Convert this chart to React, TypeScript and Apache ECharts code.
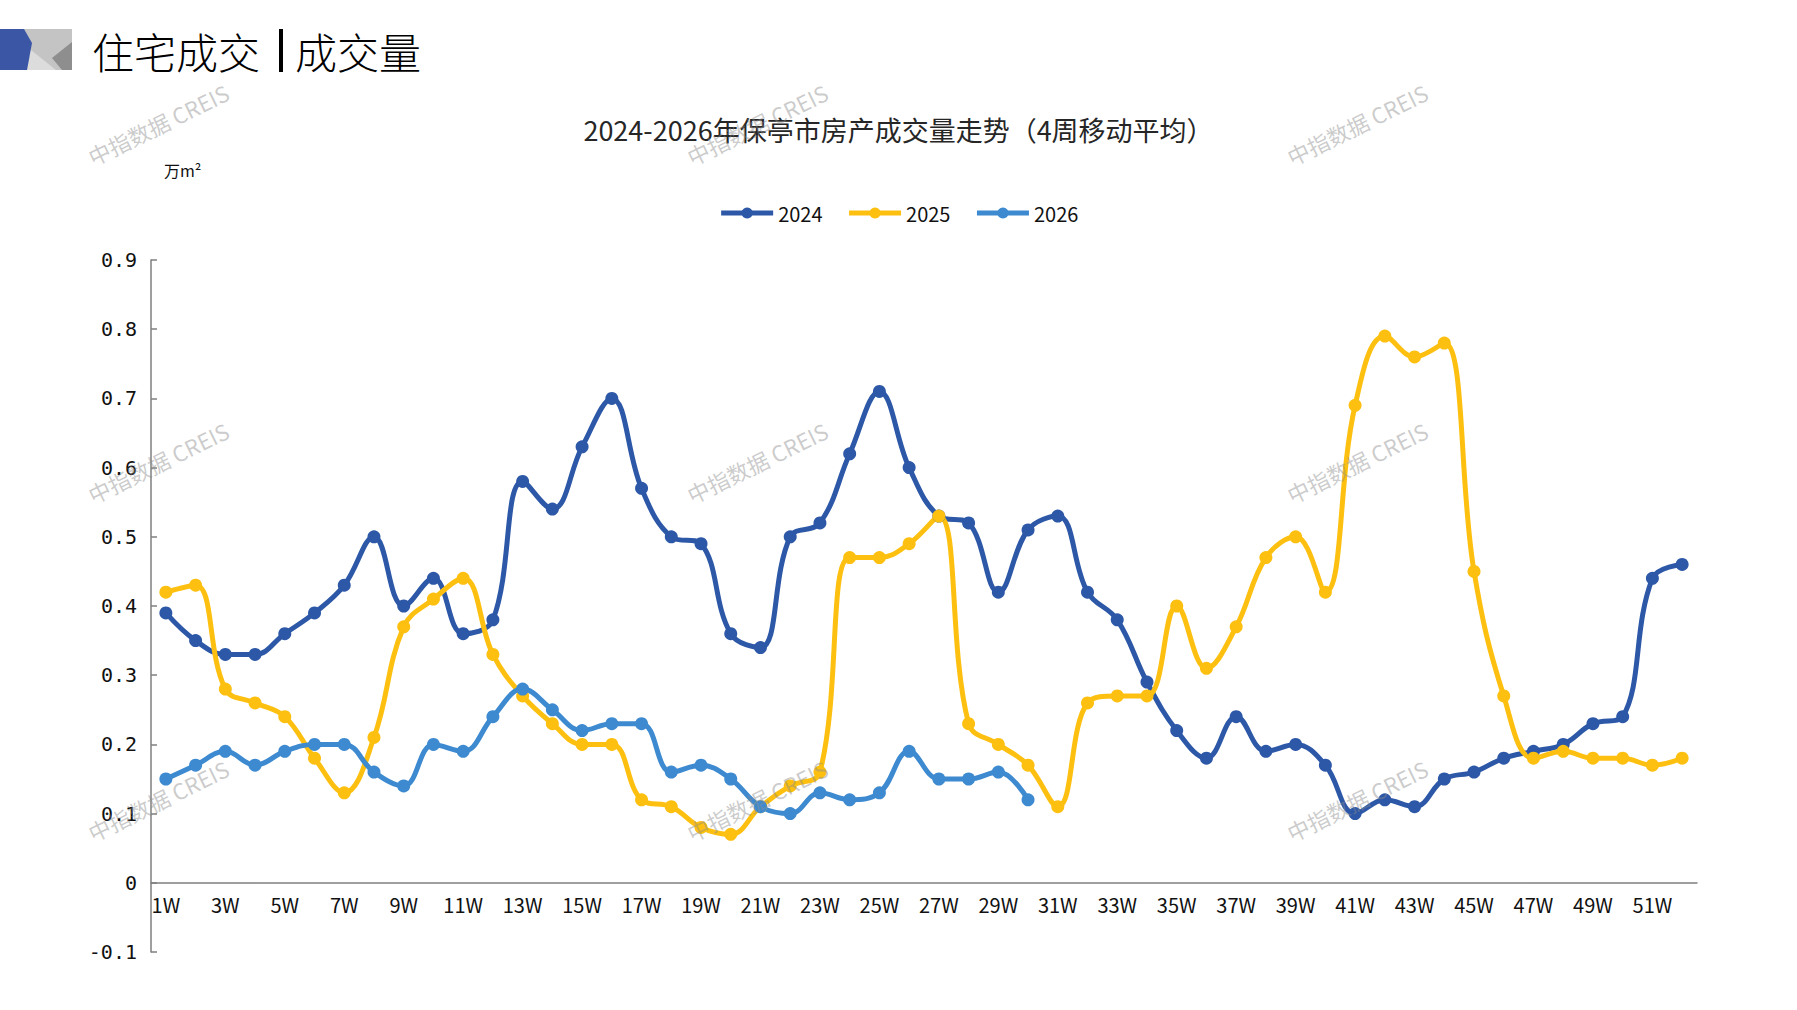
import { useEffect, useRef } from "react";
import * as echarts from "echarts";

const weeks = Array.from({ length: 52 }, (_, i) => `${i + 1}W`);

const vol2024 = [
  0.39, 0.35, 0.33, 0.33, 0.36, 0.39, 0.43, 0.5, 0.4, 0.44, 0.36, 0.38, 0.58,
  0.54, 0.63, 0.7, 0.57, 0.5, 0.49, 0.36, 0.34, 0.5, 0.52, 0.62, 0.71, 0.6,
  0.53, 0.52, 0.42, 0.51, 0.53, 0.42, 0.38, 0.29, 0.22, 0.18, 0.24, 0.19, 0.2,
  0.17, 0.1, 0.12, 0.11, 0.15, 0.16, 0.18, 0.19, 0.2, 0.23, 0.24, 0.44, 0.46,
];

const vol2025 = [
  0.42, 0.43, 0.28, 0.26, 0.24, 0.18, 0.13, 0.21, 0.37, 0.41, 0.44, 0.33, 0.27,
  0.23, 0.2, 0.2, 0.12, 0.11, 0.08, 0.07, 0.11, 0.14, 0.16, 0.47, 0.47, 0.49,
  0.53, 0.23, 0.2, 0.17, 0.11, 0.26, 0.27, 0.27, 0.4, 0.31, 0.37, 0.47, 0.5,
  0.42, 0.69, 0.79, 0.76, 0.78, 0.45, 0.27, 0.18, 0.19, 0.18, 0.18, 0.17, 0.18,
];

const vol2026 = [
  0.15, 0.17, 0.19, 0.17, 0.19, 0.2, 0.2, 0.16, 0.14, 0.2, 0.19, 0.24, 0.28,
  0.25, 0.22, 0.23, 0.23, 0.16, 0.17, 0.15, 0.11, 0.1, 0.13, 0.12, 0.13, 0.19,
  0.15, 0.15, 0.16, 0.12,
];

const seriesNames = ["2024", "2025", "2026"];
const seriesColors = ["#2D58A7", "#FDC010", "#3D8AD0"];

const watermarkSpots: Array<[number, number]> = [
  [158, 124], [757, 124], [1357, 124],
  [158, 462], [757, 462], [1357, 462],
  [158, 800], [757, 800], [1357, 800],
];

const cjk = "'Noto Sans CJK SC', sans-serif";
const narrow = "'Liberation Sans Narrow', 'Noto Sans CJK SC', sans-serif";

// plot spans -0.1..0.9 over 692px, so the zero line sits 69.2px above the bottom
const GRID_TOP = 260;
const GRID_BOTTOM = 58;
const PLOT_H = 1010 - GRID_TOP - GRID_BOTTOM;
const ZERO_OFFSET = PLOT_H / 10;

export default function App() {
  const ref = useRef<HTMLDivElement | null>(null);

  useEffect(() => {
    const el = ref.current;
    if (el === null) return;
    const chart = echarts.init(el, null, { renderer: "svg" });

    const watermarks = watermarkSpots.map(([x, y]) => ({
      type: "text",
      x,
      y,
      rotation: (26 * Math.PI) / 180,
      z: 100,
      silent: true,
      style: {
        text: "中指数据 CREIS",
        fill: "rgba(140,140,140,0.45)",
        font: `22px ${cjk}`,
        textAlign: "center",
        textVerticalAlign: "middle",
      },
    }));

    chart.setOption({
      animation: false,
      backgroundColor: "#fff",
      title: {
        text: "2024-2026年保亭市房产成交量走势（4周移动平均）",
        left: "center",
        top: 111,
        textStyle: { fontSize: 27, fontWeight: "normal", color: "#262626", fontFamily: cjk },
      },
      legend: {
        top: 198,
        left: "center",
        itemWidth: 52,
        itemHeight: 14,
        itemGap: 24,
        lineStyle: { width: 5 },
        textStyle: { fontSize: 20, color: "#111", fontFamily: narrow },
      },
      grid: { left: 151, right: 100, top: GRID_TOP, bottom: GRID_BOTTOM },
      xAxis: {
        type: "category",
        data: weeks,
        boundaryGap: true,
        offset: -ZERO_OFFSET,
        axisLine: { onZero: false, lineStyle: { color: "#7f7f7f", width: 1.5 } },
        axisTick: { inside: true, interval: 0, length: 7, lineStyle: { color: "#7f7f7f", width: 1.5 } },
        axisLabel: { interval: 1, fontSize: 20, color: "#111", fontFamily: narrow, margin: 12 },
        splitLine: { show: false },
      },
      yAxis: {
        type: "value",
        min: -0.1,
        max: 0.9,
        interval: 0.1,
        axisLine: { show: true, lineStyle: { color: "#7f7f7f", width: 1.5 } },
        axisTick: { show: true, inside: true, length: 6, lineStyle: { color: "#7f7f7f", width: 1.5 } },
        axisLabel: {
          fontSize: 20,
          color: "#111",
          fontFamily: "'DejaVu Sans Mono', monospace",
          margin: 14,
          formatter: (v: number) => (Math.abs(v) < 1e-9 ? "0" : v.toFixed(1)),
        },
        splitLine: { show: false },
      },
      series: [vol2024, vol2025, vol2026].map((data, i) => ({
        name: seriesNames[i],
        type: "line",
        data,
        smooth: 0.4,
        symbol: "circle",
        symbolSize: 13,
        color: seriesColors[i],
        lineStyle: { width: 5, color: seriesColors[i] },
        itemStyle: { color: seriesColors[i] },
      })),
      graphic: [
        { type: "rect", shape: { x: 22, y: 29, width: 50, height: 41 }, style: { fill: "#C4C4C4" } },
        { type: "polygon", shape: { points: [[26, 46], [56, 70], [22, 70]] }, style: { fill: "#DCDCDC" } },
        { type: "polygon", shape: { points: [[72, 42], [72, 70], [62, 70], [52, 58]] }, style: { fill: "#8E8E8E" } },
        { type: "polygon", shape: { points: [[0, 29], [24, 29], [32, 43], [27, 70], [0, 70]] }, style: { fill: "#3A56A5" } },
        {
          type: "text",
          x: 92,
          y: 50,
          style: { text: "住宅成交", font: `300 42px ${cjk}`, fill: "#000", textVerticalAlign: "middle" },
        },
        { type: "rect", shape: { x: 279, y: 29, width: 4, height: 43 }, style: { fill: "#000" } },
        {
          type: "text",
          x: 295,
          y: 50,
          style: { text: "成交量", font: `300 42px ${cjk}`, fill: "#000", textVerticalAlign: "middle" },
        },
        {
          type: "text",
          x: 164,
          y: 170,
          style: { text: "万m²", font: `16px ${cjk}`, fill: "#111", textVerticalAlign: "middle" },
        },
        ...watermarks,
      ],
    });

    return () => chart.dispose();
  }, []);

  return (
    <div
      ref={ref}
      style={{ position: "fixed", left: 0, top: 0, width: 1797, height: 1010, background: "#fff" }}
    />
  );
}
